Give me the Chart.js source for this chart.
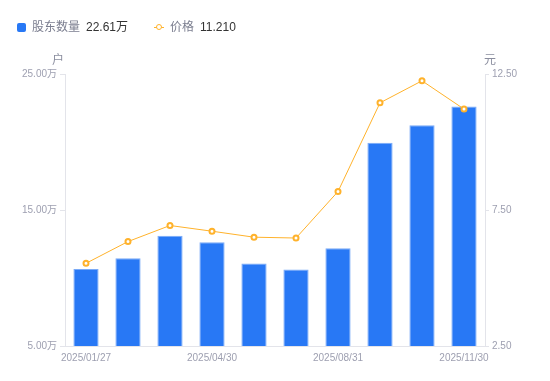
<!DOCTYPE html>
<html>
<head>
<meta charset="utf-8">
<script src="https://cdn.jsdelivr.net/npm/chart.js@4.4.1/dist/chart.umd.min.js"></script>
<style>
  html, body { margin:0; padding:0; background:#fff; }
  #wrap { position:relative; width:550px; height:381px; }
  #legend { position:absolute; left:17px; top:19px; font-family:"Liberation Sans", Arial, "Noto Sans CJK SC", sans-serif; font-size:12px; line-height:16px; display:flex; align-items:center; z-index:2; }
  .item { display:flex; align-items:center; }
  .sq { width:9px; height:9px; background:#2878F5; border-radius:2px; margin-right:6px; }
  .ln { position:relative; width:10px; height:9px; margin-right:6px; }
  .ln:before { content:""; position:absolute; left:0; right:0; top:4px; height:1px; background:#FFB22B; }
  .ln:after { content:""; position:absolute; left:2px; top:1.5px; width:4px; height:4px; border:1.5px solid #FFB22B; border-radius:50%; background:#fff; }
  .nm { color:#7b7e8f; margin-right:6px; }
  .vl { color:#333; }
  canvas { position:absolute; left:0; top:0; }
</style>
</head>
<body>
<div id="wrap">
  <div id="legend">
    <div class="item" style="margin-right:26px"><div class="sq"></div><span class="nm">股东数量</span><span class="vl">22.61万</span></div>
    <div class="item"><div class="ln"></div><span class="nm">价格</span><span class="vl">11.210</span></div>
  </div>
  <canvas id="c" width="550" height="381"></canvas>
</div>
<script>
const categories = ['2025/01/27','2025/02/28','2025/03/31','2025/04/30','2025/06/30','2025/07/31','2025/08/31','2025/09/30','2025/10/31','2025/11/30'];
const holders = [10.67, 11.45, 13.11, 12.62, 11.06, 10.62, 12.18, 19.94, 21.24, 22.61];
const prices = [5.54, 6.34, 6.93, 6.72, 6.50, 6.47, 8.18, 11.44, 12.25, 11.21];
const leftTicks = [5, 15, 25];
const rightTicks = [2.5, 7.5, 12.5];
const xLabelIdx = [0, 3, 6, 9];

const FONT = '"Liberation Sans", Arial, "Noto Sans CJK SC", sans-serif';
const TICK_COLOR = '#9d9fb0';
const AXIS_COLOR = '#e3e4ea';

const unitTitles = {
  id: 'unitTitles',
  afterDraw(chart) {
    const ctx = chart.ctx;
    const a = chart.chartArea;
    ctx.save();
    ctx.font = '12px ' + FONT;
    ctx.fillStyle = '#8a8d9e';
    ctx.textBaseline = 'middle';
    ctx.textAlign = 'center';
    ctx.fillText('户', a.left - 7, a.top - 13);
    ctx.fillText('元', a.right + 5, a.top - 13);
    ctx.restore();
  }
};

new Chart(document.getElementById('c'), {
  data: {
    labels: categories,
    datasets: [
      {
        type: 'line',
        label: '价格',
        data: prices,
        yAxisID: 'y1',
        borderColor: '#FFB22B',
        borderWidth: 1,
        pointRadius: 2.5,
        pointBorderWidth: 2,
        pointBackgroundColor: '#fff',
        pointBorderColor: '#FFB22B',
        tension: 0,
        order: 0
      },
      {
        type: 'bar',
        label: '股东数量',
        data: holders,
        yAxisID: 'y',
        backgroundColor: '#2878F5',
        borderColor: '#7aaaf7',
        borderWidth: 1,
        borderSkipped: 'bottom',
        categoryPercentage: 1,
        barPercentage: 0.6,
        order: 1
      }
    ]
  },
  options: {
    responsive: false,
    animation: false,
    devicePixelRatio: 1,
    layout: { padding: { top: 74, left: 0, right: 0, bottom: 0 } },
    plugins: { legend: { display: false }, tooltip: { enabled: false } },
    scales: {
      x: {
        grid: { display: false, tickLength: 6 },
        border: { display: true, color: AXIS_COLOR },
        ticks: {
          autoSkip: false,
          maxRotation: 0,
          color: TICK_COLOR,
          font: { size: 10, family: FONT },
          padding: 0,
          callback: function(v, i) { return xLabelIdx.includes(i) ? categories[i] : ''; }
        },
        afterFit(s) { s.height = 35; }
      },
      y: {
        position: 'left',
        min: 5, max: 25,
        afterBuildTicks(s) { s.ticks = leftTicks.map(v => ({ value: v })); },
        grid: { drawOnChartArea: false, drawTicks: true, tickLength: 5, color: AXIS_COLOR },
        border: { display: true, color: AXIS_COLOR },
        ticks: {
          color: TICK_COLOR,
          font: { size: 10, family: FONT },
          padding: 3,
          callback: v => v.toFixed(2) + '万'
        },
        afterFit(s) { s.width = 65; }
      },
      y1: {
        position: 'right',
        min: 2.5, max: 12.5,
        afterBuildTicks(s) { s.ticks = rightTicks.map(v => ({ value: v })); },
        grid: { drawOnChartArea: false, drawTicks: true, tickLength: 4, color: AXIS_COLOR },
        border: { display: true, color: AXIS_COLOR },
        ticks: {
          color: TICK_COLOR,
          font: { size: 10, family: FONT },
          padding: 3,
          callback: v => v.toFixed(2)
        },
        afterFit(s) { s.width = 65; }
      }
    }
  },
  plugins: [unitTitles]
});
</script>
</body>
</html>
